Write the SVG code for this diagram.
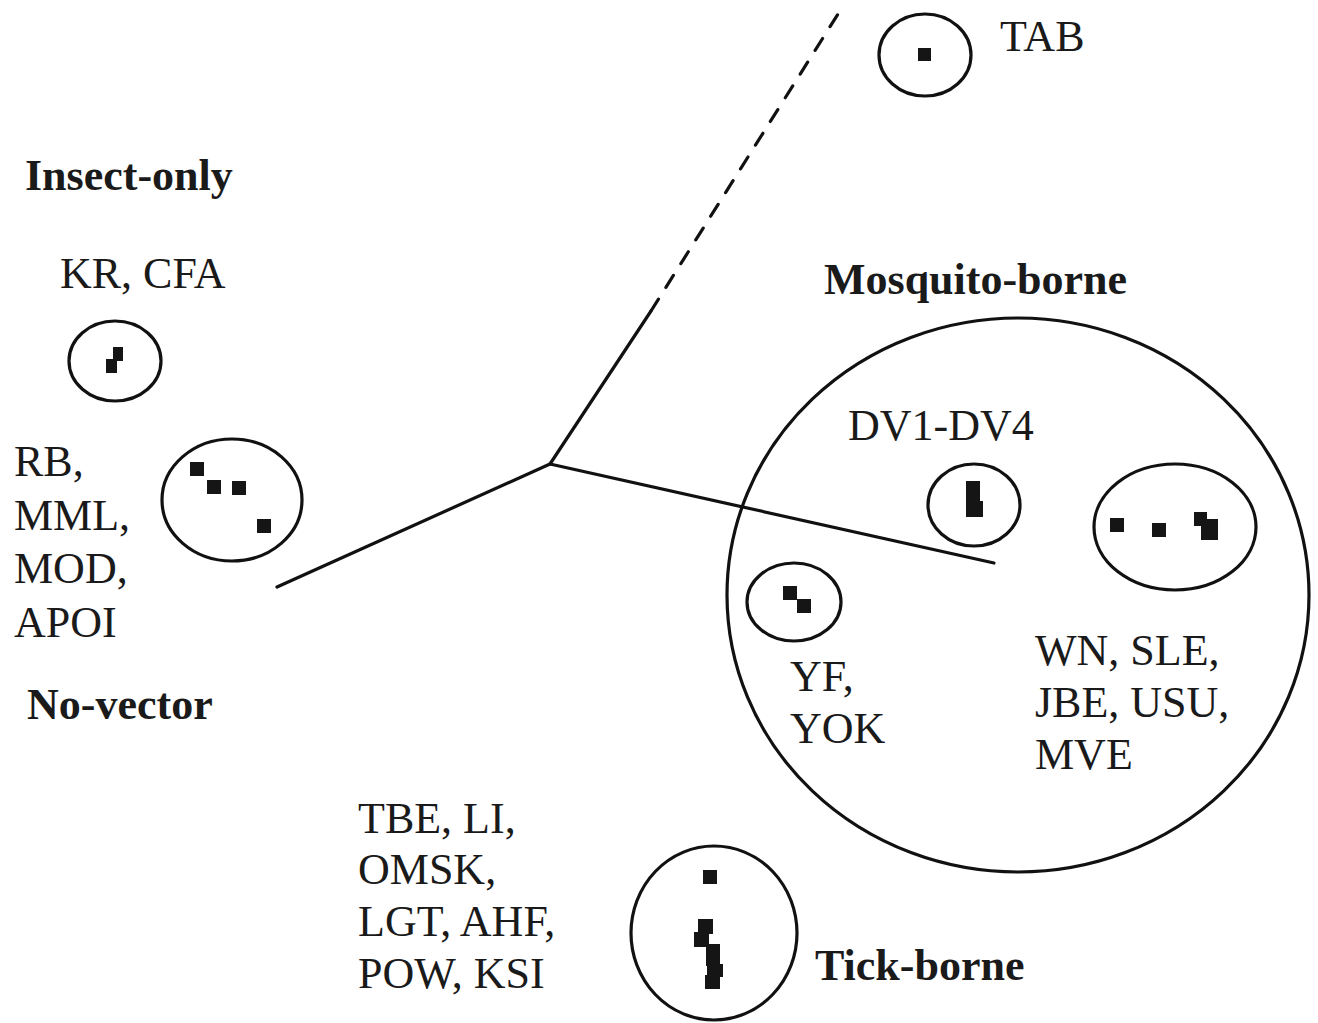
<svg xmlns="http://www.w3.org/2000/svg" width="1318" height="1023" viewBox="0 0 1318 1023">
<style>
.t{font-family:"Liberation Serif","Times New Roman",serif;font-size:44px;fill:#1a1a1a}
.b{font-weight:bold}
.c{fill:none;stroke:#111;stroke-width:3.2}
.l{fill:none;stroke:#111;stroke-width:3.2;stroke-linecap:round}
.d{fill:#151515}
</style>
<rect width="1318" height="1023" fill="#fff"/>
<g id="connectors">
<line class="l" x1="550" y1="464" x2="277" y2="587"/>
<line class="l" x1="550" y1="464" x2="994" y2="563"/>
<line class="l" x1="550" y1="464" x2="651" y2="311"/>
<line class="l" x1="651" y1="311" x2="838" y2="14" stroke-dasharray="14 14"/>
</g>
<g id="tab">
<ellipse class="c" cx="925" cy="55" rx="46" ry="41"/>
<rect class="d" x="918" y="48" width="13" height="13"/>
<text class="t" x="1000" y="51">TAB</text>
</g>
<g id="insect-only">
<text class="t b" x="25" y="190">Insect-only</text>
</g>
<g id="kr-cfa">
<text class="t" x="60" y="288">KR, CFA</text>
<ellipse class="c" cx="115" cy="361" rx="46" ry="40"/>
<rect class="d" x="113" y="347" width="10" height="14"/>
<rect class="d" x="106" y="359" width="11" height="14"/>
</g>
<g id="no-vector-group">
<text class="t" x="14" y="476">RB,</text>
<text class="t" x="14" y="530">MML,</text>
<text class="t" x="14" y="583">MOD,</text>
<text class="t" x="14" y="637">APOI</text>
<ellipse class="c" cx="232" cy="500" rx="70" ry="61"/>
<rect class="d" x="190" y="462" width="14" height="14"/>
<rect class="d" x="207" y="480" width="14" height="14"/>
<rect class="d" x="232" y="481" width="14" height="14"/>
<rect class="d" x="257" y="519" width="14" height="14"/>
</g>
<g id="no-vector">
<text class="t b" x="27" y="719">No-vector</text>
</g>
<g id="mosquito-borne">
<text class="t b" x="824" y="294">Mosquito-borne</text>
<ellipse class="c" cx="1018" cy="595" rx="291" ry="277"/>
</g>
<g id="dv">
<text class="t" x="848" y="440">DV1-DV4</text>
<ellipse class="c" cx="974" cy="505" rx="46" ry="41"/>
<rect class="d" x="966" y="481" width="14" height="22"/>
<rect class="d" x="966" y="501" width="17" height="16"/>
</g>
<g id="yf">
<ellipse class="c" cx="794" cy="602" rx="47" ry="39"/>
<rect class="d" x="783" y="586" width="14" height="14"/>
<rect class="d" x="797" y="599" width="14" height="14"/>
<text class="t" x="790" y="691">YF,</text>
<text class="t" x="790" y="743">YOK</text>
</g>
<g id="wn">
<ellipse class="c" cx="1175" cy="527" rx="81" ry="63"/>
<rect class="d" x="1110" y="518" width="14" height="14"/>
<rect class="d" x="1152" y="523" width="14" height="14"/>
<rect class="d" x="1194" y="512" width="13" height="14"/>
<rect class="d" x="1201" y="519" width="17" height="21"/>
<text class="t" x="1035" y="665">WN, SLE,</text>
<text class="t" x="1035" y="717">JBE, USU,</text>
<text class="t" x="1035" y="769">MVE</text>
</g>
<g id="tick-borne">
<text class="t" x="358" y="833">TBE, LI,</text>
<text class="t" x="358" y="884">OMSK,</text>
<text class="t" x="358" y="936">LGT, AHF,</text>
<text class="t" x="358" y="988">POW, KSI</text>
<ellipse class="c" cx="714" cy="933" rx="83" ry="87"/>
<rect class="d" x="703" y="870" width="14" height="14"/>
<rect class="d" x="698" y="919" width="15" height="15"/>
<rect class="d" x="694" y="932" width="15" height="15"/>
<rect class="d" x="706" y="944" width="14" height="22"/>
<rect class="d" x="707" y="964" width="16" height="13"/>
<rect class="d" x="705" y="975" width="15" height="14"/>
<text class="t b" x="815" y="980">Tick-borne</text>
</g>
</svg>
